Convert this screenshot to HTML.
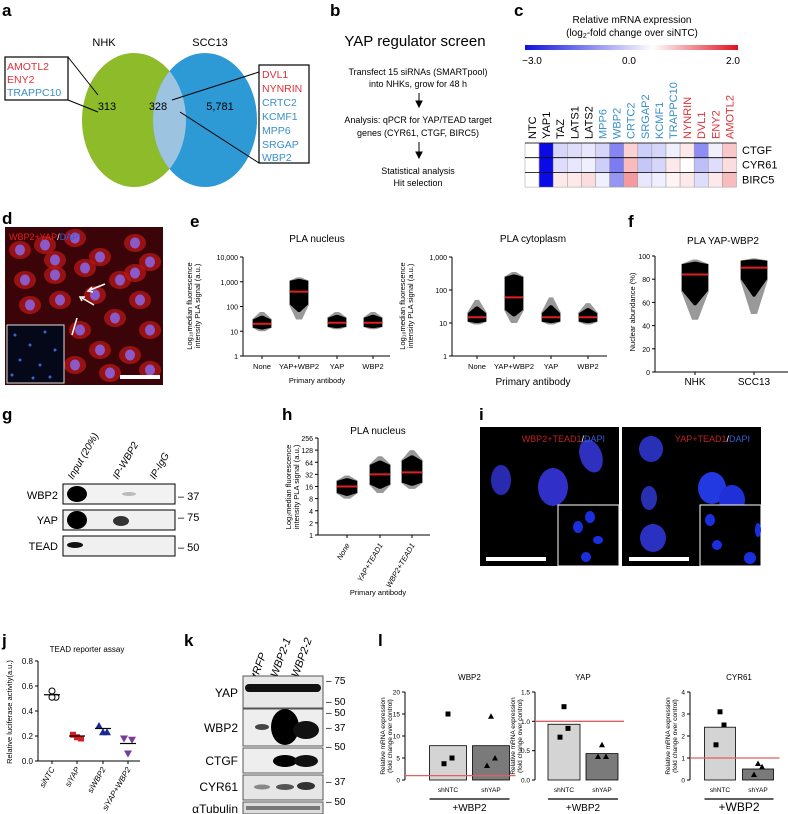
<!DOCTYPE html>
<html><head><meta charset="utf-8"><style>
body{margin:0;background:#fff}
svg{font-family:"Liberation Sans",sans-serif;display:block}
.pl{font-weight:bold;font-size:17px}
.t{font-size:8px}
</style></head><body>
<svg id="s" width="788" height="814" viewBox="0 0 788 814" xmlns="http://www.w3.org/2000/svg">
<defs>
<radialGradient id="cellg"><stop offset="0" stop-color="#a04070"/><stop offset="1" stop-color="#6a0a18"/></radialGradient>
<linearGradient id="cbar" x1="0" x2="1"><stop offset="0" stop-color="#1010e0"/><stop offset="0.6" stop-color="#ffffff"/><stop offset="1" stop-color="#e01020"/></linearGradient>
</defs>
<!-- panel a -->
<g>
<text class="pl" x="2" y="16">a</text>
<text x="104" y="46" font-size="11" text-anchor="middle">NHK</text>
<text x="210" y="46" font-size="11" text-anchor="middle">SCC13</text>
<ellipse cx="134" cy="120" rx="52" ry="67" fill="#8dbb2a"/>
<ellipse cx="205" cy="120" rx="52" ry="67" fill="#2d9ad6"/>
<clipPath id="cg"><ellipse cx="134" cy="120" rx="52" ry="67"/></clipPath>
<ellipse cx="205" cy="120" rx="52" ry="67" fill="#9cc3e0" clip-path="url(#cg)"/>
<text x="107" y="110" font-size="11" text-anchor="middle">313</text>
<text x="158" y="110" font-size="11" text-anchor="middle">328</text>
<text x="220" y="110" font-size="11" text-anchor="middle">5,781</text>
<rect x="5" y="57" width="63" height="43" fill="none" stroke="#000" stroke-width="1.2"/>
<text x="7" y="70" font-size="10.5" fill="#e0303a">AMOTL2</text>
<text x="7" y="83" font-size="10.5" fill="#e0303a">ENY2</text>
<text x="7" y="96" font-size="10.5" fill="#3a8fc8">TRAPPC10</text>
<line x1="68" y1="57" x2="98" y2="95" stroke="#000"/><line x1="68" y1="100" x2="98" y2="112" stroke="#000"/>
<rect x="259" y="65" width="50" height="98" fill="none" stroke="#000" stroke-width="1.2"/>
<text x="262" y="78" font-size="10.5" fill="#e0303a">DVL1</text>
<text x="262" y="92" font-size="10.5" fill="#e0303a">NYNRIN</text>
<text x="262" y="106" font-size="10.5" fill="#3a8fc8">CRTC2</text>
<text x="262" y="120" font-size="10.5" fill="#3a8fc8">KCMF1</text>
<text x="262" y="134" font-size="10.5" fill="#3a8fc8">MPP6</text>
<text x="262" y="148" font-size="10.5" fill="#3a8fc8">SRGAP</text>
<text x="262" y="161" font-size="10.5" fill="#3a8fc8">WBP2</text>
<line x1="259" y1="72" x2="172" y2="100" stroke="#000"/><line x1="259" y1="163" x2="180" y2="112" stroke="#000"/>
</g>
<!-- panel b -->
<g>
<text class="pl" x="330" y="16">b</text>
<text x="415" y="46" font-size="15" text-anchor="middle">YAP regulator screen</text>
<g font-size="9" text-anchor="middle">
<text x="418" y="75">Transfect 15 siRNAs (SMARTpool)</text>
<text x="418" y="87">into NHKs, grow for 48 h</text>
<text x="418" y="123">Analysis: qPCR for YAP/TEAD target</text>
<text x="418" y="136">genes (CYR61, CTGF, BIRC5)</text>
<text x="418" y="174">Statistical analysis</text>
<text x="418" y="186">Hit selection</text></g>
<path d="M419 93V106M416 101L419 107L422 101Z" stroke="#000" fill="#000"/>
<path d="M419 142V157M416 152L419 158L422 152Z" stroke="#000" fill="#000"/>
</g>
<!-- panel c -->
<g id="pc">
<text class="pl" x="514" y="16">c</text>
<text x="632" y="23" font-size="10" text-anchor="middle">Relative mRNA expression</text>
<text x="632" y="36" font-size="10" text-anchor="middle">(log<tspan font-size="7" dy="2">2</tspan><tspan dy="-2">-fold change over siNTC)</tspan></text>
<rect x="525" y="45" width="213" height="5" fill="url(#cbar)"/>
<text x="532" y="64" font-size="10" text-anchor="middle">−3.0</text>
<text x="629" y="64" font-size="10" text-anchor="middle">0.0</text>
<text x="733" y="64" font-size="10" text-anchor="middle">2.0</text>
</g>
<!-- panel d -->
<g>
<text class="pl" x="2" y="224">d</text>
<rect x="5" y="227" width="158" height="158" fill="#3a0408"/>
<g id="dcells"></g>
<rect x="7" y="325" width="57" height="58" fill="#050818" stroke="#ddd" stroke-width="1"/>
<g id="dinset"></g>
<text x="9" y="240" font-size="9" fill="#e02020">WBP2+YAP<tspan fill="#fff">/</tspan><tspan fill="#3a5ad0">DAPI</tspan></text>
<rect x="120" y="375" width="40" height="4" fill="#fff"/>
<path d="M105 284L90 290M92 287L88 291L93 292" stroke="#fff" stroke-width="1.5" fill="none"/>
<path d="M94 305L82 298M85 297L80 297L82 301" stroke="#fff" stroke-width="1.5" fill="none"/>
<path d="M77 318L72 335" stroke="#fff" stroke-width="1.5"/>
</g>
<g id="charts"></g>
<!-- panel g -->
<g>
<text class="pl" x="2" y="420">g</text>
<g font-size="10" font-style="italic">
<text transform="translate(73,480) rotate(-60)">Input (20%)</text>
<text transform="translate(118,480) rotate(-60)">IP-WBP2</text>
<text transform="translate(155,480) rotate(-60)">IP-IgG</text></g>
<rect x="63" y="484" width="112" height="20" fill="#f2f2f2" stroke="#000"/>
<rect x="63" y="510" width="112" height="20" fill="#f0f0f0" stroke="#000"/>
<rect x="63" y="536" width="112" height="20" fill="#f0f0f0" stroke="#000"/>
<ellipse cx="77" cy="494" rx="10" ry="8" fill="#000"/>
<ellipse cx="129" cy="494" rx="7" ry="2" fill="#bbb"/>
<ellipse cx="77" cy="520" rx="10" ry="9" fill="#000"/>
<ellipse cx="121" cy="521" rx="8" ry="5" fill="#333"/>
<ellipse cx="75" cy="545" rx="8" ry="3" fill="#111"/>
<g font-size="11" text-anchor="end"><text x="58" y="499">WBP2</text><text x="58" y="524">YAP</text><text x="58" y="550">TEAD</text></g>
<g font-size="11"><text x="178" y="500">– 37</text><text x="178" y="521">– 75</text><text x="178" y="551">– 50</text></g>
</g>
<!-- panel i -->
<g>
<text class="pl" x="479" y="420">i</text>
<rect x="480" y="427" width="139" height="139" fill="#000"/>
<rect x="622" y="427" width="139" height="139" fill="#000"/>
<ellipse cx="501" cy="480" rx="10" ry="15" fill="#2a2ab0"/>
<ellipse cx="553" cy="487" rx="15" ry="19" fill="#3030c8"/>
<ellipse cx="591" cy="456" rx="11" ry="17" fill="#3030c0" transform="rotate(-20 591 456)"/>
<ellipse cx="651" cy="449" rx="12" ry="13" fill="#2830b8"/>
<ellipse cx="712" cy="488" rx="14" ry="16" fill="#2238e0"/>
<ellipse cx="732" cy="500" rx="13" ry="15" fill="#2030d8"/>
<ellipse cx="649" cy="498" rx="8" ry="12" fill="#2630b0"/>
<ellipse cx="653" cy="538" rx="13" ry="14" fill="#2a30c0"/>
<rect x="558" y="505" width="61" height="61" fill="#000" stroke="#fff"/>
<rect x="700" y="505" width="61" height="61" fill="#000" stroke="#fff"/>
<g fill="#1a30e0"><ellipse cx="590" cy="517" rx="5" ry="6"/><ellipse cx="578" cy="527" rx="5" ry="6"/><ellipse cx="598" cy="540" rx="5" ry="4"/><ellipse cx="586" cy="557" rx="5" ry="5"/><ellipse cx="710" cy="520" rx="5" ry="6"/><ellipse cx="717" cy="545" rx="5" ry="5"/><ellipse cx="750" cy="558" rx="6" ry="6"/><ellipse cx="758" cy="530" rx="3" ry="7"/></g>
<text x="605" y="442" font-size="9" fill="#c0202a" text-anchor="end">WBP2+TEAD1<tspan fill="#fff">/</tspan><tspan fill="#3a5ad0">DAPI</tspan></text>
<text x="750" y="442" font-size="9" fill="#c0202a" text-anchor="end">YAP+TEAD1<tspan fill="#fff">/</tspan><tspan fill="#3a5ad0">DAPI</tspan></text>
<rect x="486" y="557" width="60" height="4" fill="#fff"/><rect x="629" y="557" width="60" height="4" fill="#fff"/>
</g>
<!-- panel k -->
<g>
<text class="pl" x="184" y="646">k</text>
<g font-size="11" font-style="italic">
<text transform="translate(258,678) rotate(-70)">tRFP</text>
<text transform="translate(277,678) rotate(-70)">WBP2-1</text>
<text transform="translate(298,678) rotate(-70)">WBP2-2</text></g>
<rect x="243" y="676" width="80" height="32" fill="#e8e8e8" stroke="#555"/>
<rect x="243" y="709" width="80" height="37" fill="#eee" stroke="#555"/>
<rect x="243" y="748" width="80" height="25" fill="#eee" stroke="#555"/>
<rect x="243" y="775" width="80" height="25" fill="#e6e6e6" stroke="#555"/>
<rect x="243" y="802" width="80" height="12" fill="#ddd" stroke="#555"/>
<rect x="245" y="684" width="76" height="8" rx="4" fill="#111"/>
<ellipse cx="262" cy="727" rx="7" ry="3" fill="#444"/><ellipse cx="285" cy="727" rx="14" ry="18" fill="#000"/><ellipse cx="306" cy="730" rx="13" ry="9" fill="#111"/>
<ellipse cx="285" cy="761" rx="12" ry="6" fill="#000"/><ellipse cx="306" cy="761" rx="12" ry="6" fill="#111"/>
<ellipse cx="262" cy="787" rx="8" ry="2.5" fill="#888"/><ellipse cx="285" cy="787" rx="9" ry="3" fill="#555"/><ellipse cx="306" cy="786" rx="9" ry="4" fill="#333"/>
<rect x="246" y="806" width="74" height="4" fill="#777"/>
<g font-size="12" text-anchor="end"><text x="238" y="697">YAP</text><text x="238" y="732">WBP2</text><text x="238" y="765">CTGF</text><text x="238" y="791">CYR61</text><text x="238" y="813">αTubulin</text></g>
<g font-size="10"><text x="326" y="684">– 75</text><text x="326" y="705">– 50</text><text x="326" y="716">– 50</text><text x="326" y="731">– 37</text><text x="326" y="750">– 50</text><text x="326" y="785">– 37</text><text x="326" y="805">– 50</text></g>
</g>
<text class="pl" x="378" y="646">l</text>
</svg>
<script>
const NS='http://www.w3.org/2000/svg';
const S=document.getElementById('s');
function mk(tag,at,par){const e=document.createElementNS(NS,tag);for(const k in at)e.setAttribute(k,at[k]);(par||S).appendChild(e);return e;}
function tx(x,y,t,at,par){const e=mk('text',Object.assign({x:x,y:y},at||{}),par);e.textContent=t;return e;}

// ---- heatmap c
const hmGenes=['NTC','YAP1','TAZ','LATS1','LATS2','MPP6','WBP2','CRTC2','SRGAP2','KCMF1','TRAPPC10','NYNRIN','DVL1','ENY2','AMOTL2'];
const hmRows=['CTGF','CYR61','BIRC5'];
const hmCTGF=[0,-3,-0.5,-0.4,-0.3,-0.5,-1.5,0.4,-0.6,-0.5,-0.2,0.2,-1.4,-0.2,0.5];
const hmCYR61=[0,-3,-0.4,-0.3,-0.2,-0.6,-1.6,0.6,-0.7,-0.5,0.2,0.0,-0.8,-0.4,0.3];
const hmBIRC5=[0,-3,0.2,0.2,0.3,-0.2,-1.3,0.9,-0.3,-0.2,0.1,0.2,-0.4,0.2,0.6];
const hmColor=['#000','#000','#000','#000','#000','#3a8fc8','#3a8fc8','#3a8fc8','#3a8fc8','#3a8fc8','#3a8fc8','#e0303a','#e0303a','#e0303a','#e0303a'];
(function(){
 const pc=document.getElementById('pc');
 const x0=525,cw=14.1,y0=143,rh=14.7;
 const col=v=>{if(v<0){const f=Math.min(1,-v/3);return `rgb(${Math.round(255-245*f)},${Math.round(255-245*f)},${Math.round(255-25*f)})`;}const f=Math.min(1,v/2);return `rgb(${Math.round(255-25*f)},${Math.round(255-225*f)},${Math.round(255-215*f)})`;};
 [hmCTGF,hmCYR61,hmBIRC5].forEach((row,r)=>{row.forEach((v,i)=>{
  const c=mk('rect',{x:x0+i*cw,y:y0+r*rh,width:cw,height:rh,fill:col(v),stroke:'#999','stroke-width':0.5},pc);
  
  
 });
 mk('line',{x1:x0,x2:x0+hmGenes.length*cw,y1:y0+r*rh,y2:y0+r*rh,stroke:'#000','stroke-width':0.8},pc);
 const l=tx(742,y0+r*rh+11,hmRows[r],{'font-size':11},pc);
 
 
 });
 hmGenes.forEach((g,i)=>{const l=tx(0,0,g,{'font-size':11,fill:hmColor[i],transform:`translate(${x0+i*cw+11},139) rotate(-90)`},pc);
 
 });
})();

// ---- micrograph d cells (decorative)
(function(){const g=document.getElementById('dcells');const pts=[[20,250],[45,245],[75,238],[100,257],[135,243],[150,262],[25,280],[55,275],[85,268],[120,280],[140,300],[30,305],[60,300],[95,295],[115,318],[150,330],[80,330],[100,350],[130,355],[150,370],[75,365],[110,373],[55,260],[135,273]];
pts.forEach(p=>{mk('ellipse',{cx:p[0],cy:p[1],rx:11,ry:9,fill:'#c01818',opacity:0.7},g);mk('ellipse',{cx:p[0],cy:p[1],rx:5,ry:5.5,fill:'#8a5ac8'},g);});
const gi=document.getElementById('dinset');[[15,335],[30,345],[45,332],[20,360],[40,365],[55,350],[12,375],[50,377],[33,378]].forEach(p=>mk('circle',{cx:p[0],cy:p[1],r:1.5,fill:'#4060d0'},gi));})();

// ---- PLA plots
const C=document.getElementById('charts');
function logAxis(x0,x1,yBot,yTop,ticks,tickLbl,y2v){}
function plaPlot(o){
 const g=mk('g',{},C);
 
 
 const sy=o.scale;
 mk('line',{x1:o.ax,x2:o.ax,y1:sy(o.ticks[o.ticks.length-1]),y2:sy(o.ticks[0]),stroke:'#000'},g);
 mk('line',{x1:o.ax,x2:o.axEnd,y1:sy(o.ticks[0]),y2:sy(o.ticks[0]),stroke:'#000'},g);
 o.ticks.forEach((t,i)=>{mk('line',{x1:o.ax-3,x2:o.ax,y1:sy(t),y2:sy(t),stroke:'#000'},g);tx(o.ax-5,sy(t)+3,o.tickLabels[i],{'font-size':7,'text-anchor':'end'},g);});
 o.cats.forEach((c,i)=>{
  const x=o.xs[i],md=sy(o.med[i]),lo=sy(o.lo[i]),hi=sy(o.hi[i]),q1=sy(o.q1[i]),q3=sy(o.q3[i]),w=o.w;
  mk('line',{x1:x,x2:x,y1:sy(o.ticks[0]),y2:sy(o.ticks[0])+3,stroke:'#000'},g);
  const gp=mk('path',{d:`M${x-2} ${hi}L${x+2} ${hi}L${x+w+1} ${q3}L${x+w+1} ${q1}L${x+3} ${lo}L${x-3} ${lo}L${x-w-1} ${q1}L${x-w-1} ${q3}Z`,fill:'#999'},g);
  const b=mk('path',{d:`M${x-1} ${(hi+q3)/2}L${x+1} ${(hi+q3)/2}L${x+w} ${q3}L${x+w} ${q1}L${x+1} ${(q1+lo)/2}L${x-1} ${(q1+lo)/2}L${x-w} ${q1}L${x-w} ${q3}Z`,fill:'#000'},g);
  
  
  mk('line',{x1:x-w,x2:x+w,y1:md,y2:md,stroke:'#e02020','stroke-width':2},g);
  if(o.rot) tx(0,0,c,{'font-size':7.5,'font-style':'italic','text-anchor':'end',transform:`translate(${x+3},${sy(o.ticks[0])+10}) rotate(-60)`},g);
  else tx(x,sy(o.ticks[0])+13,c,{'font-size':o.catFs||7.5,'text-anchor':'middle'},g);
 });
 tx(o.titleX,o.titleY,o.title,{'font-size':10,'text-anchor':'middle'},g);
 if(o.xTitle) tx(o.titleX,o.xTitleY,o.xTitle,{'font-size':o.xtFs||7.5,'text-anchor':'middle'},g);
 o.yTitle.forEach((t,k)=>tx(0,0,t,{'font-size':7.5,'text-anchor':'middle',transform:`translate(${o.ytX+k*8},${o.ytY}) rotate(-90)`},g));
}
const logS=(yb,yt,dec)=>v=>yb-(Math.log10(v)/dec)*(yb-yt);
// e nucleus
const eCats=['None','YAP+WBP2','YAP','WBP2'];
const eNucMed=[20,400,22,22], eNucLo=[10,30,12,12], eNucHi=[60,1500,60,60], eNucQ1=[14,120,15,15], eNucQ3=[30,1100,35,35];
plaPlot({name:'pla-nucleus-chart',scale:logS(356,257,4),ax:243,axEnd:390,ticks:[1,10,100,1000,10000],tickLabels:['1','10','100','1,000','10,000'],cats:eCats,xs:[262,299,337,373],med:eNucMed,lo:eNucLo,hi:eNucHi,q1:eNucQ1,q3:eNucQ3,w:9,title:'PLA nucleus',titleX:317,titleY:242,xTitle:'Primary antibody',xTitleY:383,yTitle:['Log₁₀median fluorescence','intensity PLA signal (a.u.)'],ytX:192,ytY:306});
tx(190,227,'e',{'class':'pl'});
const eCytMed=[15,60,15,15], eCytLo=[9,10,9,9], eCytHi=[50,350,60,40], eCytQ1=[11,25,11,11], eCytQ3=[20,250,20,20];
plaPlot({name:'pla-cytoplasm-chart',scale:logS(356,257,3),ax:452,axEnd:607,ticks:[1,10,100,1000],tickLabels:['1','10','100','1,000'],cats:eCats,xs:[477,514,551,588],med:eCytMed,lo:eCytLo,hi:eCytHi,q1:eCytQ1,q3:eCytQ3,w:9,title:'PLA cytoplasm',titleX:533,titleY:242,xTitle:'Primary antibody',xTitleY:385,xtFs:10,yTitle:['Log₁₀median fluorescence','intensity PLA signal (a.u.)'],ytX:405,ytY:306});
// f
tx(628,227,'f',{'class':'pl'});
const fCats=['NHK','SCC13'], fMed=[84,90], fLo=[45,50], fHi=[97,98], fQ1=[70,80], fQ3=[93,96];
plaPlot({name:'nuclear-abundance-chart',scale:v=>372-v*1.16,ax:655,axEnd:788,ticks:[0,20,40,60,80,100],tickLabels:['0','20','40','60','80','100'],cats:fCats,xs:[695,754],med:fMed,lo:fLo,hi:fHi,q1:fQ1,q3:fQ3,w:13,catFs:10,title:'PLA YAP-WBP2',titleX:723,titleY:244,yTitle:['Nuclear abundance (%)'],ytX:635,ytY:312});
// h
tx(282,420,'h',{'class':'pl'});
const hCats=['None','YAP+TEAD1','WBP2+TEAD1'], hMed=[16,32,36], hLo=[8,11,14], hHi=[30,90,128], hQ1=[11,18,20], hQ3=[22,55,70];
plaPlot({name:'pla-nucleus-tead-chart',scale:logS(535,438,Math.log10(256)),ax:318,axEnd:430,ticks:[1,2,4,8,16,32,64,128,256],tickLabels:['1','2','4','8','16','32','64','128','256'],cats:hCats,xs:[347,380,412],med:hMed,lo:hLo,hi:hHi,q1:hQ1,q3:hQ3,w:10,rot:true,title:'PLA nucleus',titleX:378,titleY:434,xTitle:'Primary antibody',xTitleY:595,yTitle:['Log₂median fluorescence','intensity PLA signal (a.u.)'],ytX:291,ytY:487});

// ---- j scatter
const jCats=['siNTC','siYAP','siWBP2','siYAP+WBP2'];
const jRep1=[0.56,0.21,0.28,0.18], jRep2=[0.51,0.18,0.23,0.17], jRep3=[0.51,0.19,0.23,0.06];
const jMean=[0.53,0.20,0.26,0.14];
const jTicks=[0,0.2,0.4,0.6,0.8];
(function(){
 const g=mk('g',{},C);
 
 
 tx(2,646,'j',{'class':'pl'});
 const y=v=>761-v*125, ax=38, xs=[52,77,103,128];
 mk('line',{x1:ax,x2:ax,y1:y(0),y2:y(0.8),stroke:'#000'},g);
 mk('line',{x1:ax,x2:140,y1:y(0),y2:y(0),stroke:'#000'},g);
 jTicks.forEach(t=>{mk('line',{x1:ax-3,x2:ax,y1:y(t),y2:y(t),stroke:'#000'},g);tx(ax-5,y(t)+3,t.toFixed(1),{'font-size':8,'text-anchor':'end'},g);});
 tx(87,652,'TEAD reporter assay',{'font-size':8,'text-anchor':'middle'},g);
 tx(0,0,'Relative luciferase activity(a.u.)',{'font-size':7.5,'text-anchor':'middle',transform:'translate(12,712) rotate(-90)'},g);
 const fills=['#fff','#d02020','#1a2a90','#7a3a9a'], offs=[-4,4,0];
 jCats.forEach((c,i)=>{
  const x=xs[i];
  mk('line',{x1:x,x2:x,y1:y(0),y2:y(0)+3,stroke:'#000'},g);
  [jRep1[i],jRep2[i],jRep3[i]].forEach((v,k)=>{
   const px=x+offs[k]*(k===0&&i===0?0:1), py=y(v);
   let m;
   if(i===0) m=mk('circle',{cx:px,cy:py,r:3,fill:'#fff',stroke:'#000'},g);
   else if(i===1) m=mk('rect',{x:px-3,y:py-3,width:6,height:6,fill:fills[i]},g);
   else if(i===2) m=mk('path',{d:`M${px} ${py-4}L${px+4} ${py+3}L${px-4} ${py+3}Z`,fill:fills[i]},g);
   else m=mk('path',{d:`M${px} ${py+4}L${px+4} ${py-3}L${px-4} ${py-3}Z`,fill:fills[i]},g);
   
   
  });
  mk('line',{x1:x-8,x2:x+8,y1:y(jMean[i]),y2:y(jMean[i]),stroke:'#000','stroke-width':1.2},g);
  tx(0,0,c,{'font-size':8,'font-style':'italic','text-anchor':'end',transform:`translate(${x+3},${y(0)+8}) rotate(-60)`},g);
 });
})();

// ---- l bar charts
const lCats=['shNTC','shYAP'];
const lWbp2Bars=[7.8,7.8], lWbp2Pts1=[15,14.5], lWbp2Pts2=[5,5], lWbp2Pts3=[3.7,3.3];
const lYapBars=[0.95,0.45], lYapPts1=[1.25,0.6], lYapPts2=[0.88,0.4], lYapPts3=[0.73,0.4];
const lCyrBars=[2.4,0.5], lCyrPts1=[3.1,0.75], lCyrPts2=[2.5,0.6], lCyrPts3=[1.6,0.25];
function barPlot(o){
 const g=mk('g',{},C);
 
 
 const yb=780,yt=692,y=v=>yb-v/o.max*(yb-yt);
 mk('line',{x1:o.ax,x2:o.ax,y1:yb,y2:yt,stroke:'#000'},g);
 o.ticks.forEach((t,i)=>{mk('line',{x1:o.ax-3,x2:o.ax,y1:y(t),y2:y(t),stroke:'#000'},g);tx(o.ax-5,y(t)+2.5,o.tickLabels[i],{'font-size':6.5,'text-anchor':'end'},g);});
 tx(o.ax+(o.xs[0]+o.xs[1])/2-o.ax,680,o.title,{'font-size':8,'text-anchor':'middle'},g);
 const cols=['#d4d4d4','#7a7a7a'];
 o.cats.forEach((c,i)=>{
  const x=o.xs[i];
  const b=mk('rect',{x:x-o.bw/2,y:y(o.bars[i]),width:o.bw,height:yb-y(o.bars[i]),fill:cols[i],stroke:'#000','stroke-width':0.8},g);
  
  
  [o.p1[i],o.p2[i],o.p3[i]].forEach((v,k)=>{
   const px=x+[0,4,-4][k], py=y(v);
   const m=i===0?mk('rect',{x:px-2.5,y:py-2.5,width:5,height:5,fill:'#000'},g):mk('path',{d:`M${px} ${py-3}L${px+3} ${py+2.5}L${px-3} ${py+2.5}Z`,fill:'#000'},g);
   
   
  });
  tx(x,792,c,{'font-size':6.5,'text-anchor':'middle'},g);
 });
 mk('line',{x1:o.ax,x2:o.xs[1]+o.bw/2+6,y1:y(1),y2:y(1),stroke:'#e06060','stroke-width':1.3},g);
 mk('line',{x1:o.xs[0]-o.bw/2,x2:o.xs[1]+o.bw/2,y1:799,y2:799,stroke:'#000','stroke-width':1.3},g);
 tx((o.xs[0]+o.xs[1])/2,811,'+WBP2',{'font-size':o.fs||10,'text-anchor':'middle'},g);
 tx(0,0,'Relative mRNA expression',{'font-size':6.5,'text-anchor':'middle',transform:`translate(${o.ax-20},736) rotate(-90)`},g);
 tx(0,0,'(fold change over control)',{'font-size':6.5,'text-anchor':'middle',transform:`translate(${o.ax-13},736) rotate(-90)`},g);
}
barPlot({name:'wbp2-mrna-chart',ax:405,max:20,ticks:[0,5,10,15,20],tickLabels:['0','5','10','15','20'],cats:lCats,xs:[448,491],bw:37,bars:lWbp2Bars,p1:lWbp2Pts1,p2:lWbp2Pts2,p3:lWbp2Pts3,title:'WBP2'});
barPlot({name:'yap-mrna-chart',ax:535,max:1.5,ticks:[0,0.5,1,1.5],tickLabels:['0.0','0.5','1.0','1.5'],cats:lCats,xs:[564,602],bw:32,bars:lYapBars,p1:lYapPts1,p2:lYapPts2,p3:lYapPts3,title:'YAP'});
barPlot({name:'cyr61-mrna-chart',ax:690,max:4,ticks:[0,1,2,3,4],tickLabels:['0','1','2','3','4'],cats:lCats,xs:[720,758],bw:31,bars:lCyrBars,p1:lCyrPts1,p2:lCyrPts2,p3:lCyrPts3,title:'CYR61',fs:12});
</script>
</body></html>
